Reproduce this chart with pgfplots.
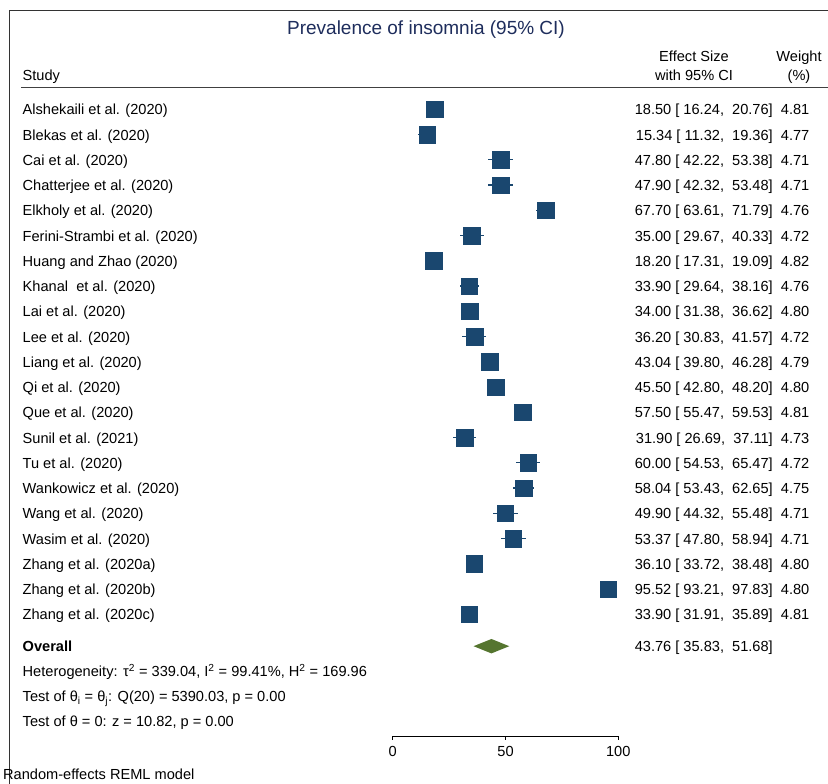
\documentclass[border=0pt]{standalone}
\usepackage{pgfplots}
\pgfplotsset{compat=1.18}
\usepackage{pgfplotstable}
\usepackage{fontspec}
\setmainfont{Liberation Sans}
\definecolor{stnavy}{RGB}{26,71,111}
\definecolor{stgreen}{RGB}{85,117,47}
\definecolor{ttl}{RGB}{30,45,92}
\newcommand{\bodyfont}{\fontsize{14.6}{17}\selectfont}
\newcommand{\titlefont}{\fontsize{19}{22}\selectfont}

% row  effect  lower  upper  weight
\pgfplotstableread{
row es lo hi w
1 18.50 16.24 20.76 4.81
2 15.34 11.32 19.36 4.77
3 47.80 42.22 53.38 4.71
4 47.90 42.32 53.48 4.71
5 67.70 63.61 71.79 4.76
6 35.00 29.67 40.33 4.72
7 18.20 17.31 19.09 4.82
8 33.90 29.64 38.16 4.76
9 34.00 31.38 36.62 4.80
10 36.20 30.83 41.57 4.72
11 43.04 39.80 46.28 4.79
12 45.50 42.80 48.20 4.80
13 57.50 55.47 59.53 4.81
14 31.90 26.69 37.11 4.73
15 60.00 54.53 65.47 4.72
16 58.04 53.43 62.65 4.75
17 49.90 44.32 55.48 4.71
18 53.37 47.80 58.94 4.71
19 36.10 33.72 38.48 4.80
20 95.52 93.21 97.83 4.80
21 33.90 31.91 35.89 4.81
}\studies

\begin{document}
\begin{tikzpicture}
\useasboundingbox (0,0) rectangle (828pt,784pt);
\begin{axis}[
  at={(392.7pt,48pt)}, anchor=south west, scale only axis,
  width=225.6pt, height=725pt,
  xmin=0, xmax=100, ymin=-736, ymax=-11,
  axis x line*=bottom, axis y line=none,
  x axis line style={line width=0.8pt, -},
  xtick={0,50,100}, tick align=outside, major tick length=4pt,
  tick style={black, line width=0.8pt},
  xticklabel style={font=\bodyfont, yshift=-3pt},
  /pgf/number format/assume math mode=true,
  clip=false,
]
\addplot[only marks, mark=square*, mark size=8.3pt, color=stnavy,
  mark options={fill=stnavy, draw=stnavy, line width=0.3pt},
  error bars/.cd, x dir=both, x explicit, error mark=none,
  error bar style={line width=1.2pt, stnavy}]
  table[x=es, y expr={-(109.3+25.25*(\thisrow{row}-1))},
        x error plus expr={\thisrow{hi}-\thisrow{es}},
        x error minus expr={\thisrow{es}-\thisrow{lo}}] {\studies};
\addplot[fill=stgreen, draw=none] coordinates
  {(35.83,-646.2) (43.76,-639) (51.68,-646.2) (43.76,-653.4)} -- cycle;
\end{axis}

\begin{scope}[x=1pt, y=-1pt, yshift=784pt, every node/.style={font=\bodyfont, inner sep=0pt}]
  \draw[line width=1pt, black!80] (9,784) -- (9,11) -- (828,11);
  \draw[line width=1.2pt, black!75] (21,87.3) -- (828,87.3);
  \node[anchor=base, font=\titlefont, text=ttl] at (426,35) {Prevalence of insomnia (95\% CI)};
  \node[anchor=base west] at (22.5,81) {Study};
  \node[anchor=base] at (694,62) {Effect Size};
  \node[anchor=base] at (694,81) {with 95\% CI};
  \node[anchor=base] at (799,62) {Weight};
  \node[anchor=base] at (799,81) {(\%)};
  \foreach \n/\e/\w [count=\i] in {
    {Alshekaili et al. (2020)}/{18.50 [\ 16.24,\ \ 20.76]}/4.81,
    {Blekas et al. (2020)}/{15.34 [\ 11.32,\ \ 19.36]}/4.77,
    {Cai et al. (2020)}/{47.80 [\ 42.22,\ \ 53.38]}/4.71,
    {Chatterjee et al. (2020)}/{47.90 [\ 42.32,\ \ 53.48]}/4.71,
    {Elkholy et al. (2020)}/{67.70 [\ 63.61,\ \ 71.79]}/4.76,
    {Ferini-Strambi et al. (2020)}/{35.00 [\ 29.67,\ \ 40.33]}/4.72,
    {Huang and Zhao (2020)}/{18.20 [\ 17.31,\ \ 19.09]}/4.82,
    {Khanal\ \ et al. (2020)}/{33.90 [\ 29.64,\ \ 38.16]}/4.76,
    {Lai et al. (2020)}/{34.00 [\ 31.38,\ \ 36.62]}/4.80,
    {Lee et al. (2020)}/{36.20 [\ 30.83,\ \ 41.57]}/4.72,
    {Liang et al. (2020)}/{43.04 [\ 39.80,\ \ 46.28]}/4.79,
    {Qi et al. (2020)}/{45.50 [\ 42.80,\ \ 48.20]}/4.80,
    {Que et al. (2020)}/{57.50 [\ 55.47,\ \ 59.53]}/4.81,
    {Sunil et al. (2021)}/{31.90 [\ 26.69,\ \ 37.11]}/4.73,
    {Tu et al. (2020)}/{60.00 [\ 54.53,\ \ 65.47]}/4.72,
    {Wankowicz et al. (2020)}/{58.04 [\ 53.43,\ \ 62.65]}/4.75,
    {Wang et al. (2020)}/{49.90 [\ 44.32,\ \ 55.48]}/4.71,
    {Wasim et al. (2020)}/{53.37 [\ 47.80,\ \ 58.94]}/4.71,
    {Zhang et al. (2020a)}/{36.10 [\ 33.72,\ \ 38.48]}/4.80,
    {Zhang et al. (2020b)}/{95.52 [\ 93.21,\ \ 97.83]}/4.80,
    {Zhang et al. (2020c)}/{33.90 [\ 31.91,\ \ 35.89]}/4.81} {
    \node[anchor=base west] at (22.5,{115+25.25*(\i-1)}) {\n};
    \node[anchor=base east] at (773,{115+25.25*(\i-1)}) {\e};
    \node[anchor=base east] at (809.5,{115+25.25*(\i-1)}) {\w};
  }
  \node[anchor=base west, font=\bodyfont\bfseries] at (22.5,652) {Overall};
  \node[anchor=base east] at (773,652) {43.76 [\ 35.83,\ \ 51.68]};
  \node[anchor=base west] at (22.5,677) {Heterogeneity: τ\textsuperscript{2} = 339.04, I\textsuperscript{2} = 99.41\%, H\textsuperscript{2} = 169.96};
  \node[anchor=base west] at (22.5,702) {Test of θ\textsubscript{i} = θ\textsubscript{j}: Q(20) = 5390.03, p = 0.00};
  \node[anchor=base west] at (22.5,727) {Test of θ = 0: z = 10.82, p = 0.00};
  \node[anchor=base west] at (3,780) {Random-effects REML model};
\end{scope}
\end{tikzpicture}
\end{document}
